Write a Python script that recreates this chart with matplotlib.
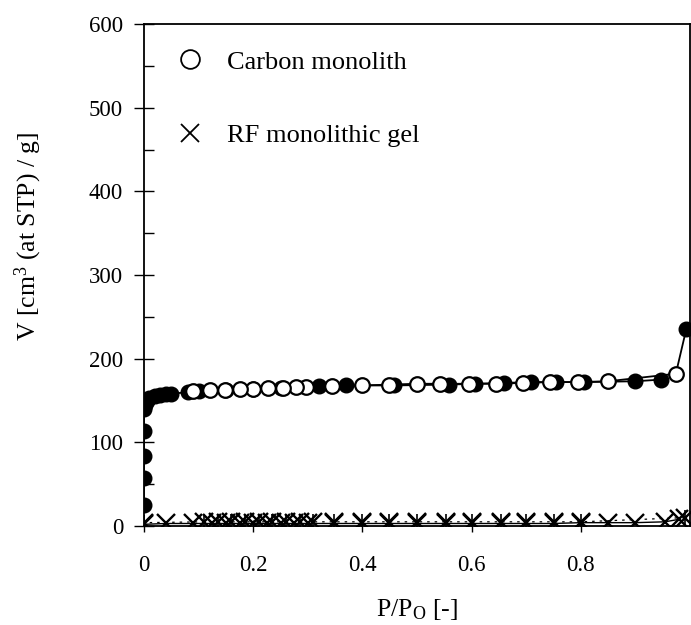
import numpy as np
import matplotlib
matplotlib.use("Agg")
import matplotlib.pyplot as plt
from matplotlib.lines import Line2D

plt.rcParams['font.family'] = ['Liberation Serif', 'DejaVu Serif']
plt.rcParams['mathtext.fontset'] = 'custom'
plt.rcParams['mathtext.rm'] = 'Liberation Serif'
plt.rcParams['mathtext.it'] = 'Liberation Serif:italic'

# carbon monolith, adsorption branch (filled circles)
cm_ads_x = [0.0, 0.0, 0.0, 0.0, 0.0, 0.002, 0.005, 0.01, 0.02, 0.03, 0.04, 0.05,
            0.08, 0.10, 0.15, 0.20, 0.25, 0.32, 0.37, 0.458, 0.558, 0.607, 0.659,
            0.708, 0.754, 0.805, 0.90, 0.947, 0.993]
cm_ads_y = [25, 57, 84, 113, 140, 145, 150, 153, 155, 157, 158, 158,
            160, 161, 163, 164, 165, 167, 168, 168, 169, 170, 171,
            172, 172, 172, 173, 175, 235]

# carbon monolith, desorption branch (open circles)
cm_des_x = [0.974, 0.85, 0.795, 0.744, 0.695, 0.644, 0.595, 0.543, 0.50, 0.449,
            0.40, 0.345, 0.297, 0.278, 0.254, 0.227, 0.20, 0.175, 0.148, 0.12, 0.09]
cm_des_y = [182, 173, 172, 172, 171, 170, 170, 170, 170, 169,
            168, 167, 166, 166, 165, 165, 164, 164, 163, 162, 161]

# RF monolithic gel
rf_ads_x = [0.0, 0.04, 0.09, 0.125, 0.15, 0.175, 0.20, 0.225, 0.25, 0.275, 0.30,
            0.348, 0.40, 0.449, 0.50, 0.553, 0.60, 0.653, 0.70, 0.75, 0.80,
            0.85, 0.90, 0.954, 0.98]
rf_ads_y = [2, 3, 3, 3, 3, 3, 3, 3, 3, 3, 3,
            3, 3, 3, 3, 3, 3, 3, 3, 3, 4,
            4, 4, 5, 8]
rf_des_x = [0.99, 0.80, 0.75, 0.70, 0.653, 0.60, 0.553, 0.50, 0.449, 0.40, 0.348,
            0.31, 0.285, 0.26, 0.235, 0.21, 0.185, 0.16, 0.135, 0.11, 0.0]
rf_des_y = [10, 5, 5, 5, 5, 5, 5, 5, 5, 5, 5,
            5, 5, 5, 5, 5, 5, 5, 5, 5, 4]

fig = plt.figure(figsize=(6.91, 6.25), dpi=100)
ax = fig.add_axes([0.2084, 0.1584, 0.7902, 0.8032])

# adsorption: line up to the last plateau point, markers on all points
ax.plot(cm_ads_x[:-1], cm_ads_y[:-1], '-', color='black', lw=1.3, zorder=3)
ax.plot(cm_ads_x, cm_ads_y, ls='none', marker='o', ms=10.5,
        mfc='black', mec='black', zorder=3)
# desorption starts from the top of the adsorption branch
ax.plot([cm_ads_x[-1]] + cm_des_x, [cm_ads_y[-1]] + cm_des_y, '-', color='black',
        lw=1.3, marker='o', ms=10.5, mfc='white', mec='black', mew=1.6,
        markevery=list(range(1, len(cm_des_x) + 1)), zorder=4)

ax.plot(rf_ads_x, rf_ads_y, '-', color='black', lw=1.0, marker='x', ms=13,
        mew=1.7, zorder=3)
ax.plot(rf_des_x, rf_des_y, '--', color='black', lw=0.9, dashes=(2, 4),
        marker='x', ms=13, mew=1.7, zorder=3)
ax.plot(rf_des_x, rf_des_y, ls='none', color='black', marker='|', ms=12,
        mew=1.2, zorder=3)

ax.set_xlim(0, 1)
ax.set_ylim(0, 600)
ax.set_xticks([0, 0.2, 0.4, 0.6, 0.8])
ax.set_xticklabels(['0', '0.2', '0.4', '0.6', '0.8'])
ax.set_yticks(range(0, 601, 100))
ax.set_yticks(range(50, 600, 100), minor=True)
ax.tick_params(axis='y', which='major', direction='inout', length=14, width=1,
               labelsize=16.5, pad=8)
ax.tick_params(axis='y', which='minor', direction='in', length=7, width=1)
ax.tick_params(axis='x', which='major', direction='inout', length=8, width=1,
               labelsize=16.5, pad=17)
for s in ax.spines.values():
    s.set_linewidth(1.3)

ax.set_xlabel('P/P$_\\mathrm{O}$ [-]', fontsize=18.5, labelpad=15)
fig.text(28 / 691, 1 - 236 / 625, 'V [cm$^3$ (at STP) / g]', fontsize=18.5,
         rotation=90, ha='center', va='center')

handles = [Line2D([], [], ls='none', marker='o', ms=13.5, mfc='white', mec='black', mew=1.3),
           Line2D([], [], ls='none', marker='x', ms=13.5, color='black', mew=1.3)]
ax.legend(handles, ['Carbon monolith', 'RF monolithic gel'], loc='upper left',
          bbox_to_anchor=(0.065, 0.948), frameon=False, fontsize=19,
          handlelength=0.8, handletextpad=1.0, labelspacing=1.9,
          borderpad=0, borderaxespad=0)

fig.savefig('out.png', dpi=100)
